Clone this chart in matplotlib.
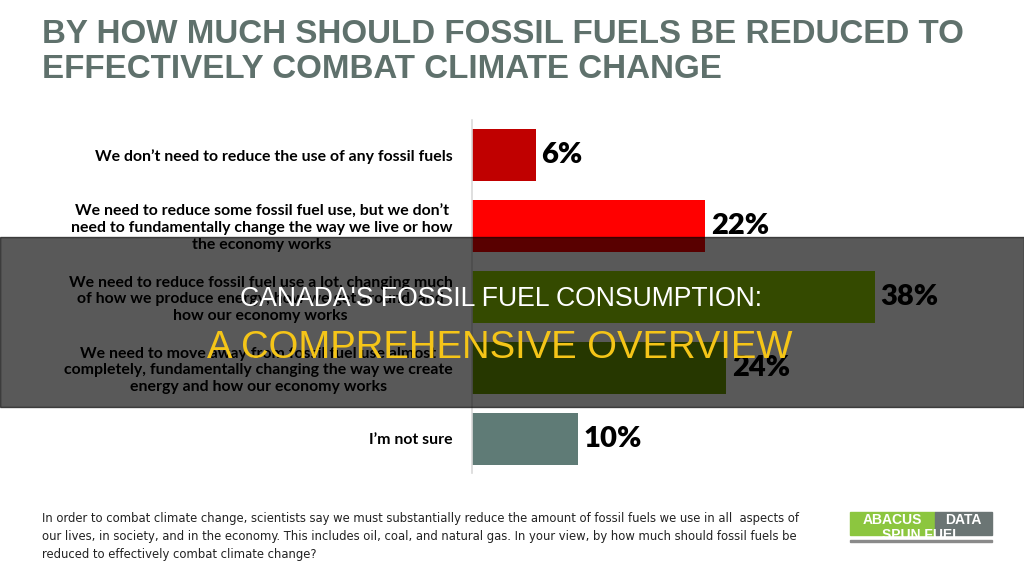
import matplotlib.pyplot as plt
from matplotlib.patches import Rectangle

# survey data
categories = [
    "We don\u2019t need to reduce the use of any fossil fuels",
    "We need to reduce some fossil fuel use, but we don\u2019t\nneed to fundamentally change the way we live or how\nthe economy works",
    "We need to reduce fossil fuel use a lot, changing much\nof how we produce energy, how we get around, and\nhow our economy works",
    "We need to move away from fossil fuel use almost\ncompletely, fundamentally changing the way we create\nenergy and how our economy works",
    "I\u2019m not sure",
]
shares = [6, 22, 38, 24, 10]
bar_colors = ['#C00000', '#FF0000', '#96D400', '#6E9E00', '#5F7B76']

title_lines = ["BY HOW MUCH SHOULD FOSSIL FUELS BE REDUCED TO",
               "EFFECTIVELY COMBAT CLIMATE CHANGE"]
footnote = ("In order to combat climate change, scientists say we must substantially reduce the amount of fossil fuels we use in all  aspects of\n"
            "our lives, in society, and in the economy. This includes oil, coal, and natural gas. In your view, by how much should fossil fuels be\n"
            "reduced to effectively combat climate change?")
banner_top = "CANADA'S FOSSIL FUEL CONSUMPTION:"
banner_bottom = "A COMPREHENSIVE OVERVIEW"

W, H = 1024, 576
fig = plt.figure(figsize=(W / 100, H / 100), dpi=100)
fig.patch.set_facecolor('white')

ax = fig.add_axes([472 / W, 1 - 473 / H, 528 / W, 353 / H])
y = list(range(len(categories)))
ax.barh(y, shares, height=0.73, color=bar_colors)
ax.set_xlim(0, 49.8)
ax.set_ylim(4.48, -0.49)

for sp in ['top', 'right', 'bottom']:
    ax.spines[sp].set_visible(False)
ax.spines['left'].set_color('#D9D9D9')
ax.spines['left'].set_linewidth(1.2)
ax.set_xticks([])
ax.set_yticks(y)
ax.set_yticklabels(categories, fontsize=11.4, fontweight='bold',
                   family=['Lato', 'DejaVu Sans'], linespacing=1.2)
ax.tick_params(axis='y', length=0, pad=14)
for lbl in ax.get_yticklabels():
    lbl.set_multialignment('center')

for i, v in enumerate(shares):
    ax.annotate(f'{v}%', (v, i), xytext=(4, 0), textcoords='offset points',
                va='center', ha='left', fontsize=21, fontweight='heavy',
                family=['Lato', 'DejaVu Sans'], color='black')

# title
title_font = ['Liberation Sans', 'DejaVu Sans']
fig.text(42 / W, 1 - 43 / H, title_lines[0], fontsize=23.9, fontweight='bold',
         color='#5F716C', family=title_font, va='baseline', ha='left')
fig.text(42 / W, 1 - 78 / H, title_lines[1], fontsize=23.9, fontweight='bold',
         color='#5F716C', family=title_font, va='baseline', ha='left')

# footnote
fig.text(42 / W, 1 - 512 / H, footnote, fontsize=9.3, color='#222222',
         family='DejaVu Sans', fontstretch='condensed',
         va='top', ha='left', linespacing=1.5)

# logo
fig.patches.append(Rectangle((850 / W, 1 - 535 / H), 85 / W, 23 / H,
                             transform=fig.transFigure, color='#8CC63F'))
fig.patches.append(Rectangle((935 / W, 1 - 535 / H), 57 / W, 23 / H,
                             transform=fig.transFigure, color='#6B7574'))
fig.text(892 / W, 1 - 520 / H, 'ABACUS', fontsize=10, color='white',
         fontweight='bold', ha='center', va='center', family=title_font)
fig.text(963 / W, 1 - 520 / H, 'DATA', fontsize=10, color='white',
         fontweight='bold', ha='center', va='center', family=title_font)
fig.patches.append(Rectangle((850 / W, 1 - 542 / H), 142 / W, 2 / H,
                             transform=fig.transFigure, color='#8A8A8A'))
fig.text(921 / W, 1 - 535 / H, 'SPUN FUEL', fontsize=10, color='white',
         fontweight='bold', ha='center', va='center', family=title_font)

# dark banner over the middle
fig.patches.append(Rectangle((0, 1 - 407 / H), 1, 170 / H,
                             transform=fig.transFigure, color='black',
                             alpha=0.65, zorder=10))
fig.text(501 / W, 1 - 299 / H, banner_top, fontsize=19.2, color='white',
         family=['Liberation Sans', 'DejaVu Sans'], ha='center', va='center',
         zorder=11)
fig.text(500 / W, 1 - 348 / H, banner_bottom, fontsize=27.5, color='#F5C518',
         family=['Liberation Sans', 'DejaVu Sans'], ha='center', va='center',
         zorder=11)

fig.savefig('out.png', dpi=100)
